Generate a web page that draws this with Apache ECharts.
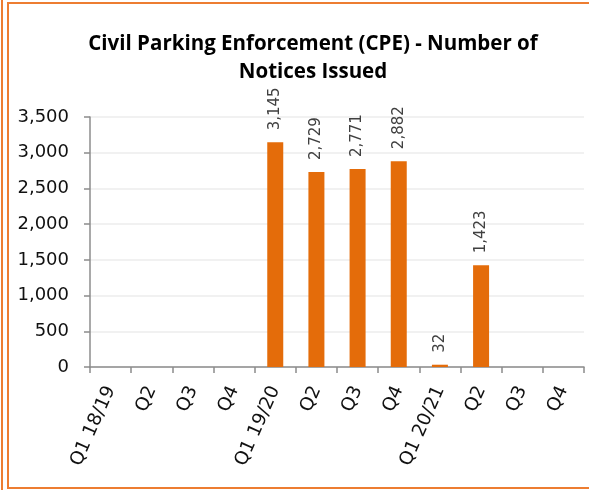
<!DOCTYPE html>
<html>
<head>
<meta charset="utf-8">
<script src="https://cdn.jsdelivr.net/npm/echarts@6/dist/echarts.min.js"></script>
<style>
  html, body { margin: 0; padding: 0; background: #fff; }
  #chart { width: 589px; height: 490px; }
</style>
</head>
<body>
<div id="chart"></div>
<script>
var quarters = ['Q1 18/19', 'Q2', 'Q3', 'Q4', 'Q1 19/20', 'Q2', 'Q3', 'Q4', 'Q1 20/21', 'Q2', 'Q3', 'Q4'];
var notices = [null, null, null, null, 3145, 2729, 2771, 2882, 32, 1423, null, null];
var yTicks = [0, 3500, 500];

var chart = echarts.init(document.getElementById('chart'));

function withComma(v) {
    return Number(v).toLocaleString('en-US');
}

var option = {
    animation: false,
    title: {
        text: 'Civil Parking Enforcement (CPE) - Number of\nNotices Issued',
        left: 308,
        top: 25,
        textAlign: 'center',
        textStyle: {
            fontFamily: 'Open Sans',
            fontWeight: 'bold',
            fontSize: 20.5,
            lineHeight: 28,
            color: '#000'
        }
    },
    graphic: [
        // orange frame around the chart
        { type: 'line', shape: { x1: 2, y1: 0, x2: 2, y2: 490 }, style: { stroke: '#ED7D31', lineWidth: 2 } },
        { type: 'rect', shape: { x: 8, y: 3, width: 600, height: 485 }, style: { fill: 'none', stroke: '#ED7D31', lineWidth: 2 } }
    ],
    grid: { left: 90, right: 5, top: 117, bottom: 123 },
    xAxis: {
        type: 'category',
        data: quarters,
        axisLine: { lineStyle: { color: '#8c8c8c', width: 1.5 } },
        axisTick: { show: true, interval: 0, length: 6, lineStyle: { color: '#8c8c8c', width: 1.5 } },
        axisLabel: {
            interval: 0,
            rotate: 66,
            margin: 20,
            fontFamily: 'DejaVu Sans',
            fontSize: 18.5,
            color: '#111'
        }
    },
    yAxis: {
        type: 'value',
        min: yTicks[0],
        max: yTicks[1],
        interval: yTicks[2],
        axisLine: { show: true, lineStyle: { color: '#8c8c8c', width: 1.5 } },
        axisTick: { show: true, length: 6, lineStyle: { color: '#8c8c8c', width: 1.5 } },
        splitLine: { lineStyle: { color: '#ececec', width: 1.5 } },
        axisLabel: {
            margin: 21,
            fontFamily: 'DejaVu Sans',
            fontSize: 18,
            color: '#111',
            formatter: withComma
        }
    },
    series: [{
        type: 'bar',
        data: notices,
        barWidth: 16,
        itemStyle: { color: '#E46C0A' },
        label: {
            show: true,
            position: 'top',
            distance: 12,
            rotate: 90,
            align: 'left',
            verticalAlign: 'middle',
            fontFamily: 'DejaVu Sans',
            fontSize: 15,
            color: '#404040',
            formatter: function (p) { return withComma(p.value); }
        }
    }]
};

chart.setOption(option);
</script>
</body>
</html>
